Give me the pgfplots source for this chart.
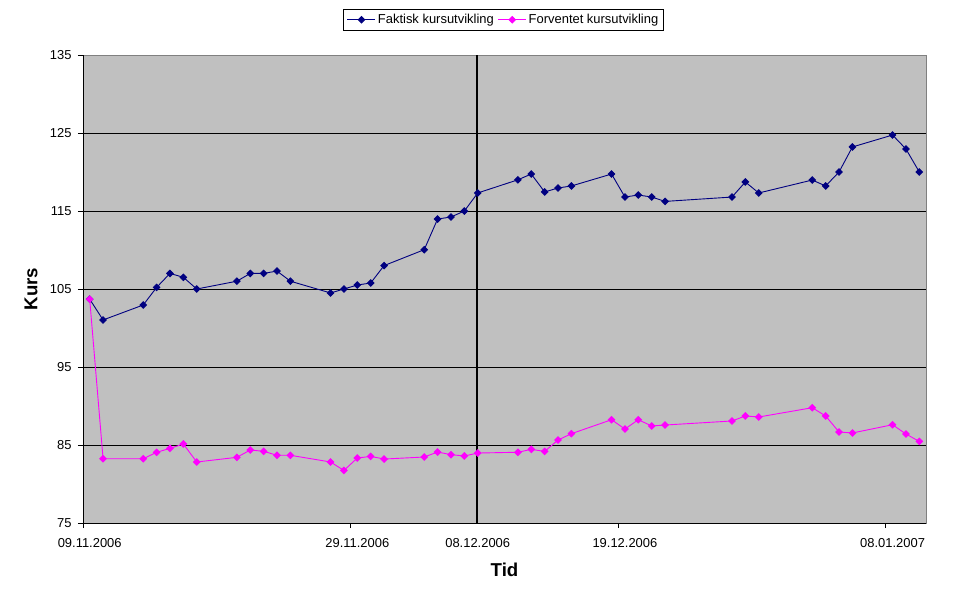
\documentclass[border=0pt]{standalone}
\usepackage{fontspec}
\setmainfont{Liberation Sans}
\usepackage{pgfplots}
\usepackage{pgfplotstable}
\pgfplotsset{compat=1.18}
\definecolor{navyc}{HTML}{000080}
\definecolor{magc}{HTML}{FF00FF}
\definecolor{bgc}{HTML}{C0C0C0}

\pgfplotstableread{
x y
0.5 103.7
1.5 101.03
4.5 102.95
5.5 105.2
6.5 107.0
7.5 106.5
8.5 105.0
11.5 106.0
12.5 107.0
13.5 107.0
14.5 107.3
15.5 106.0
18.5 104.49
19.5 105.0
20.5 105.51
21.5 105.77
22.5 108.0
25.5 110.04
26.5 113.97
27.5 114.23
28.5 115.0
29.5 117.31
32.5 119.0
33.5 119.74
34.5 117.44
35.5 117.95
36.5 118.21
39.5 119.74
40.5 116.79
41.5 117.05
42.5 116.79
43.5 116.23
48.5 116.79
49.5 118.72
50.5 117.31
54.5 118.97
55.5 118.21
56.5 120.0
57.5 123.21
60.5 124.74
61.5 122.95
62.5 120.0
}\faktisk

\pgfplotstableread{
x y
0.5 103.7
1.5 83.24
4.5 83.24
5.5 84.06
6.5 84.57
7.5 85.13
8.5 82.82
11.5 83.42
12.5 84.36
13.5 84.19
14.5 83.68
15.5 83.68
18.5 82.82
19.5 81.74
20.5 83.33
21.5 83.54
22.5 83.2
25.5 83.46
26.5 84.1
27.5 83.76
28.5 83.59
29.5 83.97
32.5 84.07
33.5 84.44
34.5 84.18
35.5 85.64
36.5 86.45
39.5 88.24
40.5 87.05
41.5 88.24
42.5 87.44
43.5 87.56
48.5 88.08
49.5 88.72
50.5 88.59
54.5 89.78
55.5 88.72
56.5 86.67
57.5 86.54
60.5 87.6
61.5 86.41
62.5 85.46
}\forventet

\begin{document}
\begin{tikzpicture}
\path[use as bounding box] (-83bp,-79bp) rectangle (892bp,523bp);
\begin{axis}[
  at={(0,0)}, anchor=south west,
  scale only axis, width=843bp, height=468bp,
  xmin=0, xmax=63, ymin=75, ymax=135,
  axis background/.style={fill=bgc},
  ytick={75,85,...,135},
  xtick={0,20,40,60}, xticklabels={},
  extra x ticks={0.5,20.5,29.5,40.5,60.5},
  extra x tick labels={09.11.2006,29.11.2006,08.12.2006,19.12.2006,08.01.2007},
  extra x tick style={major tick length=0pt, tick label style={yshift=-12bp}},
  tick pos=left,
  ymajorgrids, grid style={black, line width=1bp},
  tick align=outside, major tick length=5bp,
  tick style={black, line width=0.8bp},
  axis line style={draw=gray, line width=1bp},
  tick label style={font=\fontsize{13}{15}\selectfont},
  yticklabel style={xshift=-3bp},
  /pgf/number format/assume math mode=true,
  xlabel={Tid}, ylabel={Kurs},
  label style={font=\bfseries\fontsize{18.7}{22}\selectfont},
  xlabel style={at={(axis description cs:0.5,-0.1004)}, anchor=center},
  ylabel style={at={(axis description cs:-0.0617,0.5)}, anchor=center},
  legend style={at={(0.499,1.0754)}, anchor=center, draw=black, fill=white,
    line width=0.8bp, legend columns=2, font=\fontsize{13}{15}\selectfont,
    inner xsep=3.5bp, inner ysep=2.8bp,
    /tikz/every even column/.append style={column sep=2bp}},
  legend cell align=left,
  legend image code/.code={\draw[mark repeat=2,mark phase=2,#1] plot coordinates {(0bp,0bp) (14bp,0bp) (28bp,0bp)};},
  clip mode=individual,
]
\addplot[black, line width=2bp, forget plot] coordinates {(29.45,75) (29.45,135)};
\addplot[navyc, line width=0.9bp, mark=square*, mark size=2.3bp, mark options={solid, fill=navyc, rotate=45}] table[x=x,y=y] {\faktisk};
\addlegendentry{Faktisk kursutvikling}
\addplot[magc, line width=0.9bp, mark=square*, mark size=2.3bp, mark options={solid, fill=magc, rotate=45}] table[x=x,y=y] {\forventet};
\addlegendentry{Forventet kursutvikling}
\draw[black, line width=1bp] (rel axis cs:0,1) -- (rel axis cs:0,0) -- (rel axis cs:1,0);
\end{axis}
\end{tikzpicture}
\end{document}
